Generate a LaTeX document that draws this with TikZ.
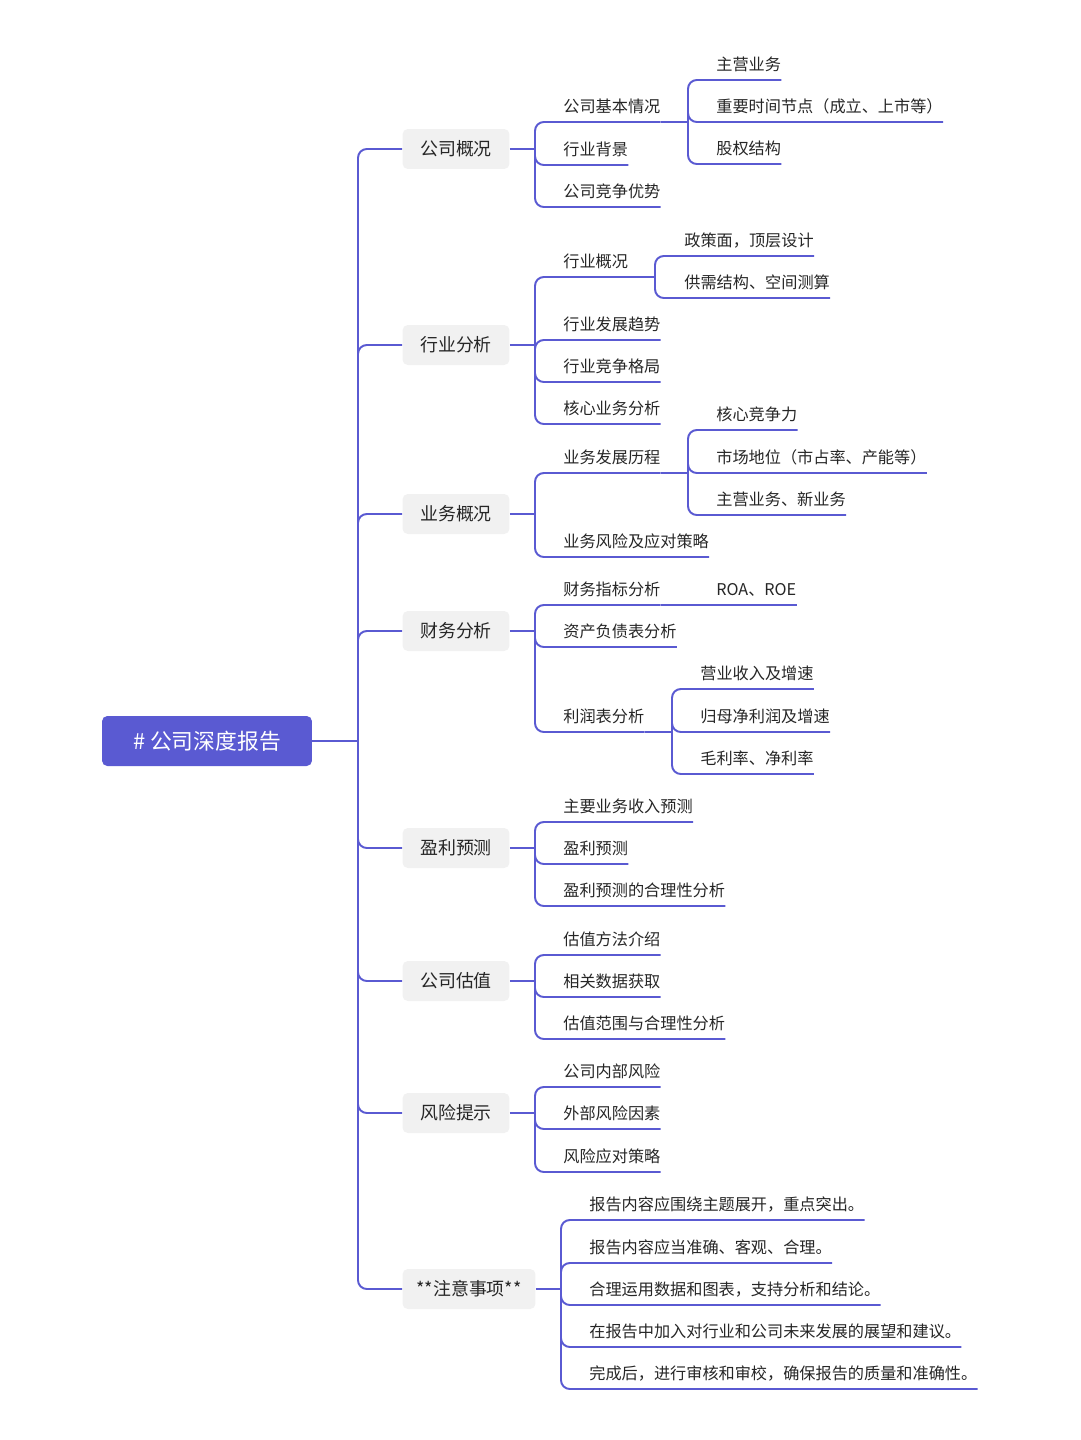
\documentclass[tikz,border=0pt]{standalone}
\usepackage{fontspec}
\setmainfont{Noto Sans CJK SC}
\definecolor{mapblue}{HTML}{5A5AD2}
\definecolor{boxgray}{HTML}{F1F1F1}
\tikzset{
  link/.style={draw=mapblue, line width=1.1pt, rounded corners=5pt},
  root/.style={fill=mapblue, text=white, rounded corners=3pt, minimum width=4.2cm, minimum height=1cm, font=\fontsize{12.4}{14}\selectfont},
  topic/.style={fill=boxgray, rounded corners=3pt, minimum width=2.14cm, minimum height=0.8cm, font=\fontsize{10.2}{12}\selectfont, text=black!85},
  leaf/.style={anchor=south west, inner xsep=0pt, inner ysep=4.5pt, font=\fontsize{9.2}{11}\selectfont, text=black!85}
}
\begin{document}
\begin{tikzpicture}[x=0.02cm, y=-0.02cm]
\useasboundingbox (0,0) rectangle (1080,1440);
\node[root] (r) at (207,741) {\# 公司深度报告};
\coordinate (t) at (358,741);
\draw[link] (r.east) -- (t);

% main topics
\node[topic] (b1) at (456,149) {公司概况};
\node[topic] (b2) at (456,345) {行业分析};
\node[topic] (b3) at (456,514) {业务概况};
\node[topic] (b4) at (456,631) {财务分析};
\node[topic] (b5) at (456,848) {盈利预测};
\node[topic] (b6) at (456,981) {公司估值};
\node[topic] (b7) at (456,1113) {风险提示};
\node[topic, minimum width=2.66cm] (b8) at (469,1289) {**注意事项**};
\foreach \b in {b1,b2,b3,b4,b5,b6,b7,b8}
  \draw[link] (t) |- (\b.west);

% 公司概况
\coordinate (j1) at (535,149);
\draw[link] (b1.east) -- (j1);
\node[leaf] (c11) at (563,122) {公司基本情况};
\node[leaf] (c12) at (563,165) {行业背景};
\node[leaf] (c13) at (563,207) {公司竞争优势};
\foreach \c in {c11,c12,c13} \draw[link] (j1) |- (\c.south east);
\coordinate (s1) at (688,122);
\draw[link] (c11.south east) -- (s1);
\node[leaf] (d11) at (716,80) {主营业务};
\node[leaf] (d12) at (716,122) {重要时间节点（成立、上市等）};
\node[leaf] (d13) at (716,164) {股权结构};
\foreach \c in {d11,d12,d13} \draw[link] (s1) |- (\c.south east);

% 行业分析
\coordinate (j2) at (535,345);
\draw[link] (b2.east) -- (j2);
\node[leaf] (c21) at (563,277) {行业概况};
\node[leaf] (c22) at (563,340) {行业发展趋势};
\node[leaf] (c23) at (563,382) {行业竞争格局};
\node[leaf] (c24) at (563,424) {核心业务分析};
\foreach \c in {c21,c22,c23,c24} \draw[link] (j2) |- (\c.south east);
\coordinate (s2) at (655,277);
\draw[link] (c21.south east) -- (s2);
\node[leaf] (d21) at (684,256) {政策面，顶层设计};
\node[leaf] (d22) at (684,298) {供需结构、空间测算};
\foreach \c in {d21,d22} \draw[link] (s2) |- (\c.south east);

% 业务概况
\coordinate (j3) at (535,514);
\draw[link] (b3.east) -- (j3);
\node[leaf] (c31) at (563,473) {业务发展历程};
\node[leaf] (c32) at (563,557) {业务风险及应对策略};
\foreach \c in {c31,c32} \draw[link] (j3) |- (\c.south east);
\coordinate (s3) at (688,473);
\draw[link] (c31.south east) -- (s3);
\node[leaf] (d31) at (716,430) {核心竞争力};
\node[leaf] (d32) at (716,473) {市场地位（市占率、产能等）};
\node[leaf] (d33) at (716,515) {主营业务、新业务};
\foreach \c in {d31,d32,d33} \draw[link] (s3) |- (\c.south east);

% 财务分析
\coordinate (j4) at (535,631);
\draw[link] (b4.east) -- (j4);
\node[leaf] (c41) at (563,605) {财务指标分析};
\node[leaf] (c42) at (563,647) {资产负债表分析};
\node[leaf] (c43) at (563,732) {利润表分析};
\foreach \c in {c41,c42,c43} \draw[link] (j4) |- (\c.south east);
\node[leaf] (d41) at (716,605) {ROA、ROE};
\draw[link] (c41.south east) -- (d41.south east);
\coordinate (s4) at (672,732);
\draw[link] (c43.south east) -- (s4);
\node[leaf] (d42) at (700,689) {营业收入及增速};
\node[leaf] (d43) at (700,732) {归母净利润及增速};
\node[leaf] (d44) at (700,774) {毛利率、净利率};
\foreach \c in {d42,d43,d44} \draw[link] (s4) |- (\c.south east);

% 盈利预测
\coordinate (j5) at (535,848);
\draw[link] (b5.east) -- (j5);
\node[leaf] (c51) at (563,822) {主要业务收入预测};
\node[leaf] (c52) at (563,864) {盈利预测};
\node[leaf] (c53) at (563,906) {盈利预测的合理性分析};
\foreach \c in {c51,c52,c53} \draw[link] (j5) |- (\c.south east);

% 公司估值
\coordinate (j6) at (535,981);
\draw[link] (b6.east) -- (j6);
\node[leaf] (c61) at (563,955) {估值方法介绍};
\node[leaf] (c62) at (563,997) {相关数据获取};
\node[leaf] (c63) at (563,1039) {估值范围与合理性分析};
\foreach \c in {c61,c62,c63} \draw[link] (j6) |- (\c.south east);

% 风险提示
\coordinate (j7) at (535,1113);
\draw[link] (b7.east) -- (j7);
\node[leaf] (c71) at (563,1087) {公司内部风险};
\node[leaf] (c72) at (563,1129) {外部风险因素};
\node[leaf] (c73) at (563,1172) {风险应对策略};
\foreach \c in {c71,c72,c73} \draw[link] (j7) |- (\c.south east);

% 注意事项
\coordinate (j8) at (561,1289);
\draw[link] (b8.east) -- (j8);
\node[leaf] (c81) at (589,1220) {报告内容应围绕主题展开，重点突出。};
\node[leaf] (c82) at (589,1263) {报告内容应当准确、客观、合理。};
\node[leaf] (c83) at (589,1305) {合理运用数据和图表，支持分析和结论。};
\node[leaf] (c84) at (589,1347) {在报告中加入对行业和公司未来发展的展望和建议。};
\node[leaf] (c85) at (589,1389) {完成后，进行审核和审校，确保报告的质量和准确性。};
\foreach \c in {c81,c82,c83,c84,c85} \draw[link] (j8) |- (\c.south east);
\end{tikzpicture}
\end{document}
